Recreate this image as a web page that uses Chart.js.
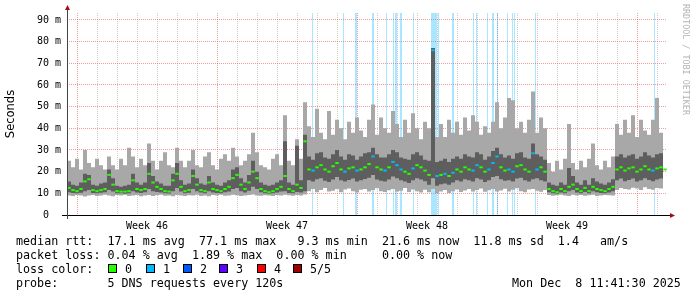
<!DOCTYPE html>
<html>
<head>
<meta charset="utf-8">
<script src="https://cdn.jsdelivr.net/npm/chart.js@4.4.1/dist/chart.umd.min.js"></script>
<style>
  body { margin: 0; background: #fff; }
  #wrap { position: relative; width: 697px; height: 297px; overflow: hidden; }
  #myChart { position: absolute; left: 0; top: 0; }
  .t { position: absolute; font: 11.7px "DejaVu Sans Mono", monospace; color: #000; white-space: pre; line-height: 14px; }
  .sw { position: absolute; width: 7px; height: 7px; border: 1px solid #000; }
  #credit { position: absolute; left: 681px; top: 4px; writing-mode: vertical-rl; font: 8.4px "DejaVu Sans Mono", monospace; color: #b4b4b4; white-space: pre; }
</style>
</head>
<body>
<div id="wrap">
  <canvas id="myChart" width="697" height="297"></canvas>
  <div id="credit">RRDTOOL / TOBI OETIKER</div>

  <div class="t" style="left:16px;top:234px">median rtt:  17.1 ms avg  77.1 ms max   9.3 ms min  21.6 ms now  11.8 ms sd  1.4   am/s</div>
  <div class="t" style="left:16px;top:248px">packet loss: 0.04 % avg  1.89 % max  0.00 % min     0.00 % now</div>
  <div class="t" style="left:16px;top:262px">loss color:</div>
  <div id="swatches"></div>
  <div class="t" style="left:16px;top:276px">probe:       5 DNS requests every 120s</div>
  <div class="t" style="left:512px;top:276px">Mon Dec  8 11:41:30 2025</div>
</div>
<script>
// one sample every 0.2 days (about 4.8 h), 30 days shown
const step = 0.2;

const median = [
  12.5, 11.5, 11, 12, 15.5, 16.5, 11.5, 11, 11.5, 12,
  18.5, 14, 11, 10.8, 10.8, 11, 16, 12, 11.5, 12,
  19, 15, 13, 12, 11, 10.8, 16, 19, 13, 11,
  11.5, 18, 14, 11.5, 11, 15, 12, 11.5, 11, 12,
  13, 17, 18.5, 14, 12, 15, 20, 17, 12, 11,
  10.5, 11, 12, 13, 18, 12, 11, 14, 12.5, 34,
  21, 20.5, 22, 23, 21, 20, 22.5, 24, 21, 20,
  21.5, 22, 20.5, 21, 22, 23.5, 27, 22, 21, 20.5,
  22, 24.5, 23, 21, 20, 19, 21.5, 23, 22, 20.5,
  18.5, 76, 18, 18.5, 19, 18, 19.5, 21, 20, 22,
  21, 20.5, 23, 22, 20, 21, 24, 27, 22, 20.5,
  21, 20, 22.5, 23, 21, 20, 28.5, 21, 22, 20,
  12, 11, 10.5, 12, 11, 13, 14, 12, 11, 12.5,
  11, 13, 12, 11.5, 11, 12, 13, 21, 22, 20.5,
  21.5, 22, 20, 21, 22.5, 21, 20.5, 21.5, 22, 21
];

// outer smoke (lowest / highest ping)
const smokeHi = [
  25, 22, 26, 21, 30, 24, 22, 26, 23, 21,
  27, 23, 21, 26, 23, 31, 27, 22, 26, 23,
  33, 25, 21, 25, 29, 23, 22, 31, 25, 22,
  25, 30, 23, 22, 27, 29, 23, 21, 26, 28,
  25, 31, 27, 23, 25, 28, 38, 29, 23, 22,
  21, 26, 28, 23, 46, 25, 23, 35, 26, 52,
  41, 36, 49, 38, 35, 48, 37, 44, 40, 35,
  43, 38, 45, 39, 36, 44, 51, 37, 45, 40,
  38, 48, 42, 36, 44, 38, 47, 40, 35, 43,
  40, 77, 36, 42, 36, 44, 38, 43, 37, 45,
  39, 46, 43, 37, 41, 38, 43, 52, 40, 45,
  54, 53, 40, 43, 38, 44, 57, 38, 45, 40,
  24, 20, 25, 21, 26, 42, 24, 21, 25, 22,
  26, 33, 23, 21, 25, 22, 27, 42, 37, 44,
  38, 46, 36, 44, 39, 37, 44, 54, 38, 42
];
const smokeLo = [
  9, 8.8, 9.2, 9, 8.5, 9, 9.2, 8.8, 9, 9.3,
  9, 8.7, 9.2, 9, 9.4, 8.8, 9, 9.2, 8.6, 9,
  9.2, 8.8, 9.1, 9.4, 8.9, 9, 8.7, 9.2, 9, 8.8,
  9.1, 9, 9.3, 8.8, 9, 8.6, 9.2, 9, 9.3, 8.9,
  9, 9.4, 9.1, 8.8, 9, 9.2, 9.5, 9, 8.9, 9.1,
  9, 8.8, 9.2, 9, 9.4, 9.1, 8.9, 9.2, 9, 9.5,
  11, 12, 10.5, 11.5, 12.5, 10.8, 11.2, 12, 10.5, 11.8,
  12.2, 11, 10.4, 11.6, 12, 10.8, 11.5, 12.3, 11, 10.6,
  11.4, 12, 10.9, 11.2, 12.4, 10.6, 11.8, 11, 10.4, 11.6,
  10.5, 12, 10, 10.8, 11.5, 10.2, 11, 11.8, 10.6, 11.3,
  12, 10.8, 11.5, 12.2, 10.7, 11.4, 12, 10.9, 11.3, 12.1,
  10.8, 11.6, 12.3, 11, 10.5, 11.8, 12, 11.2, 10.7, 11.5,
  9.2, 8.9, 9.1, 9.4, 9, 8.8, 9.3, 9, 9.2, 8.9,
  9.1, 9.3, 8.8, 9, 9.2, 9.1, 9, 11.5, 12.5, 12,
  11.8, 12.6, 12.2, 11.5, 12.8, 12, 11.6, 12.4, 12.2, 11.9
];

// inner smoke (2nd / 4th ping)
const coreHi = [
  15.5, 14, 13.5, 15, 19, 18.5, 14, 13.5, 14.5, 15,
  21, 17, 13.5, 13, 13.5, 14, 19, 15, 14, 15,
  24, 18, 15.5, 14.5, 13.5, 13.5, 19, 24, 16, 14,
  14.5, 21, 17, 14.5, 14, 18, 15, 14, 13.5, 15,
  16, 21, 22, 17, 15, 18.5, 25, 20, 15, 14,
  13.5, 14, 15, 16, 34, 15, 14, 32, 16, 37,
  27, 25.5, 28.5, 29, 26.5, 26, 28, 30, 27, 25.5,
  28, 27.5, 25.5, 27, 28.5, 29, 31, 28, 26.5, 26.5,
  28, 30, 29, 26.5, 26, 25.5, 28, 29, 27.5, 25.5,
  25, 77, 24.5, 25, 26, 24.5, 26, 27, 26, 28,
  27, 26.5, 29, 28, 25.5, 27, 29.5, 31, 28, 26.5,
  27.5, 26, 28.5, 29, 26.5, 26, 33, 28, 27, 25.5,
  15, 14, 13.5, 15, 14, 21.7, 18, 15, 14, 16,
  14, 17, 15.5, 14.5, 14, 15, 16.5, 27, 28, 26.5,
  27.5, 28, 26, 27, 29, 27.5, 26.5, 28, 28.5, 27
];
const coreLo = [
  10.5, 10.2, 10, 10.3, 11, 11.5, 10.2, 10, 10.3, 10.5,
  11.5, 10.8, 10, 10, 9.8, 10, 11, 10.4, 10.2, 10.5,
  12, 11, 10.6, 10.4, 10, 9.9, 11, 12.5, 10.8, 10,
  10.3, 12, 11, 10.4, 10, 11, 10.4, 10.2, 10, 10.5,
  10.8, 12, 12.5, 11, 10.4, 11.2, 13, 12, 10.5, 10,
  9.8, 10, 10.4, 10.8, 11, 10.2, 10, 10.6, 10.4, 11,
  16, 15.5, 16.5, 17, 15.8, 15.2, 16.4, 17.5, 16, 15.4,
  16.2, 16.8, 15.4, 16, 16.6, 17.2, 18.5, 16.4, 15.8, 15.5,
  16.4, 17.8, 17, 16, 15.4, 14.8, 16, 17, 16.4, 15.6,
  14, 17, 13.5, 14.2, 14.5, 14, 15, 16, 15.4, 16.5,
  16, 15.5, 17, 16.4, 15.2, 16, 17.5, 18, 16.5, 15.8,
  16, 15.4, 16.8, 17.2, 16, 15.4, 16.5, 17, 16, 15.5,
  10.5, 10, 9.8, 10.4, 10, 11, 11.5, 10.4, 10, 10.6,
  10, 11, 10.5, 10.2, 10, 10.4, 11, 16, 16.8, 15.6,
  16.2, 16.8, 15.4, 16, 17, 16.2, 15.6, 16.4, 16.8, 16
];

// packet loss events: start (days from left edge), duration (days), lost pings of 5
const lossStart = [12.25, 13.8, 14.4, 15.25, 15.95, 16.3, 16.4, 16.65, 17.3, 18.2, 18.55, 18.9,
  19.25, 20.3, 20.45, 21.0, 21.25, 21.5, 22.0, 22.25, 22.35, 23.4, 29.35];
const lossLen = [0.05, 0.05, 0.1, 0.1, 0.05, 0.05, 0.1, 0.1, 0.05, 0.3, 0.05, 0.05,
  0.1, 0.05, 0.05, 0.05, 0.1, 0.05, 0.05, 0.05, 0.05, 0.05, 0.05];
const lossCount = [1, 1, 1, 1, 1, 1, 1, 1, 1, 1, 1, 1, 1, 1, 1, 1, 1, 1, 1, 1, 1, 1, 1];

const lossLabels = ['0', '1', '2', '3', '4', '5/5'];
const lossColors = ['#26ff00', '#00b8ff', '#0059ff', '#5e00ff', '#ff0000', '#a00000'];

const yTicks = [0, 5, 10, 15, 20, 25, 30, 35, 40, 45, 50, 55, 60, 65, 70, 75, 80, 85, 90];
const dayTicks = [];
for (let d = 0.5; d < 30; d++) dayTicks.push(d);
const weekDays = [4, 11, 18, 25];
const weekNames = ['Week 46', 'Week 47', 'Week 48', 'Week 49'];

const yMax = 93.2;
const majorGrid = 'rgba(230, 60, 60, 0.5)';
const minorGrid = 'rgba(128, 128, 128, 0.38)';

// legend swatches
const swX = [108, 146, 183, 219, 257, 293];
const swRoot = document.querySelector('#swatches');
lossLabels.forEach((lab, i) => {
  const s = document.createElement('div');
  s.className = 'sw';
  s.style.left = swX[i] + 'px';
  s.style.top = '264px';
  s.style.background = lossColors[i];
  swRoot.append(s);
  const t = document.createElement('div');
  t.className = 't';
  t.style.left = (swX[i] + 17) + 'px';
  t.style.top = '262px';
  t.textContent = lab;
  swRoot.append(t);
});

function series(arr) {
  return arr.map((v, i) => ({x: i * step, y: v}));
}

function lossAt(i) {
  const a = i * step, b = a + step;
  let n = 0;
  lossStart.forEach((s, k) => {
    if (s < b && s + lossLen[k] > a) n = Math.max(n, lossCount[k]);
  });
  return n;
}

function lossBands(level) {
  const pts = [];
  lossStart.forEach((s, k) => {
    if (lossCount[k] !== level) return;
    const e = s + lossLen[k];
    pts.push({x: s, y: 0}, {x: s, y: yMax}, {x: e, y: yMax}, {x: e, y: 0});
  });
  return pts;
}

function hexAlpha(hex, a) {
  const n = parseInt(hex.slice(1), 16);
  return `rgba(${n >> 16}, ${(n >> 8) & 255}, ${n & 255}, ${a})`;
}

const datasets = [];
[1, 2, 3, 4, 5].forEach(level => {
  const pts = lossBands(level);
  if (!pts.length) return;
  datasets.push({
    data: pts, fill: 'origin', borderWidth: 0, pointRadius: 0,
    backgroundColor: hexAlpha(lossColors[level], 0.34), order: 10
  });
});
const base = datasets.length;
datasets.push(
  {data: series(smokeHi), stepped: true, fill: {target: base + 1}, borderWidth: 0, pointRadius: 0, backgroundColor: '#a8a8a8', order: 5},
  {data: series(smokeLo), stepped: true, fill: false, borderWidth: 0, pointRadius: 0, order: 5},
  {data: series(coreHi), stepped: true, fill: {target: base + 3}, borderWidth: 0, pointRadius: 0, backgroundColor: '#5e5e5e', order: 4},
  {data: series(coreLo), stepped: true, fill: false, borderWidth: 0, pointRadius: 0, order: 4},
  {
    data: median.map((v, i) => ({x: i * step + step / 2, y: v})),
    showLine: false, pointStyle: 'line', pointRadius: 1.7, pointBorderWidth: 2,
    pointBorderColor: median.map((v, i) => lossColors[lossAt(i)]), order: 1
  }
);

const axesPlugin = {
  id: 'axes',
  afterDraw(chart) {
    const {ctx, chartArea: a} = chart;
    const y0 = chart.scales.y.getPixelForValue(0);
    ctx.save();
    ctx.lineWidth = 1;
    ctx.strokeStyle = '#000';
    ctx.beginPath();
    ctx.moveTo(a.left - 5, y0 + 0.5);
    ctx.lineTo(a.right + 5, y0 + 0.5);
    ctx.stroke();
    ctx.strokeStyle = '#444';
    ctx.beginPath();
    ctx.moveTo(a.left + 0.5, y0 + 4);
    ctx.lineTo(a.left + 0.5, a.top - 4);
    ctx.stroke();
    ctx.fillStyle = '#a01010';
    ctx.beginPath();
    ctx.moveTo(a.left - 2, a.top - 3);
    ctx.lineTo(a.left + 3, a.top - 3);
    ctx.lineTo(a.left + 0.5, a.top - 8);
    ctx.fill();
    ctx.beginPath();
    ctx.moveTo(a.right + 3, y0 - 2);
    ctx.lineTo(a.right + 3, y0 + 3);
    ctx.lineTo(a.right + 8, y0 + 0.5);
    ctx.fill();
    ctx.restore();
  }
};

const ctx = document.getElementById('myChart').getContext('2d');
const myChart = new Chart(ctx, {
  type: 'line',
  data: {datasets},
  plugins: [axesPlugin],
  options: {
    responsive: false,
    animation: false,
    events: [],
    layout: {padding: {top: 13, right: 30, left: 0, bottom: 0}},
    plugins: {legend: {display: false}, tooltip: {enabled: false}},
    elements: {line: {tension: 0}},
    scales: {
      x: {
        type: 'linear', min: 0, max: 30, offset: false, z: 1,
        afterBuildTicks: s => { s.ticks = dayTicks.concat(weekDays).sort((a, b) => a - b).map(v => ({value: v})); },
        afterFit: s => { s.height = 82; },
        grid: {
          drawTicks: false,
          color: c => {
            const v = c.tick.value;
            if (weekDays.includes(v)) return 'rgba(0,0,0,0)';
            return (v - 0.5) % 7 === 0 ? majorGrid : minorGrid;
          }
        },
        border: {display: false, dash: [1, 1]},
        ticks: {
          autoSkip: false, maxRotation: 0, padding: 5, color: '#000',
          font: {family: 'DejaVu Sans Mono', size: 10},
          callback: v => {
            const k = weekDays.indexOf(v);
            return k < 0 ? '' : weekNames[k];
          }
        }
      },
      y: {
        type: 'linear', min: 0, max: yMax, z: 1,
        afterBuildTicks: s => { s.ticks = yTicks.map(v => ({value: v})); },
        afterFit: s => { s.width = 67; },
        grid: {
          drawTicks: false,
          color: c => c.tick.value % 10 === 0 ? majorGrid : minorGrid
        },
        border: {display: false, dash: [1, 1]},
        ticks: {
          padding: 6, color: '#000',
          font: {family: 'DejaVu Sans Mono', size: 10},
          callback: v => v % 10 ? '' : (v ? v + ' m' : '0  ')
        },
        title: {
          display: true, text: 'Seconds', color: '#000',
          font: {family: 'DejaVu Sans', size: 11.5},
          padding: {top: 4, bottom: 0}
        }
      }
    }
  }
});
</script>
</body>
</html>
